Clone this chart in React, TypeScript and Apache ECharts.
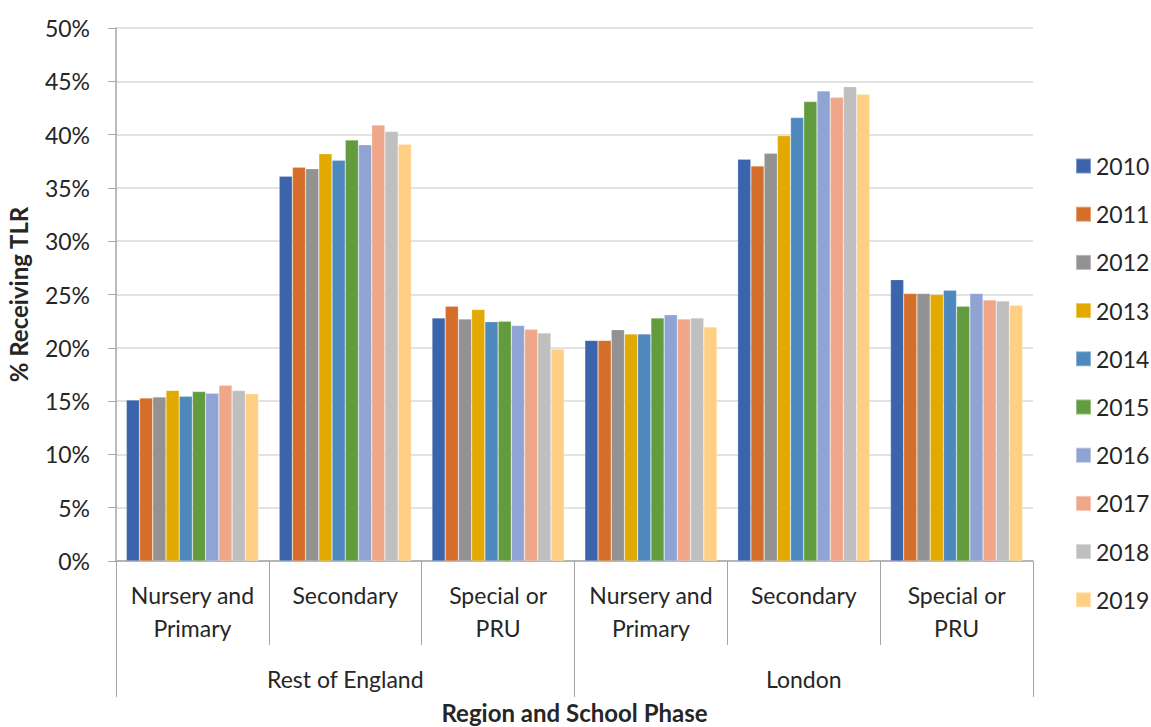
import React, { useEffect, useRef } from "react";
import * as echarts from "echarts";

const phases = [
  "Nursery and\nPrimary",
  "Secondary",
  "Special or\nPRU",
  "Nursery and\nPrimary",
  "Secondary",
  "Special or\nPRU",
];
const regions = ["Rest of England", "London"];
const years = ["2010", "2011", "2012", "2013", "2014", "2015", "2016", "2017", "2018", "2019"];

const v2010 = [15.1, 36.1, 22.8, 20.7, 37.7, 26.4];
const v2011 = [15.3, 36.95, 23.9, 20.7, 37.05, 25.1];
const v2012 = [15.4, 36.8, 22.7, 21.7, 38.25, 25.1];
const v2013 = [16.0, 38.2, 23.6, 21.3, 39.9, 25.0];
const v2014 = [15.45, 37.6, 22.45, 21.3, 41.6, 25.4];
const v2015 = [15.9, 39.5, 22.5, 22.8, 43.1, 23.9];
const v2016 = [15.75, 39.05, 22.1, 23.1, 44.1, 25.1];
const v2017 = [16.5, 40.9, 21.75, 22.7, 43.5, 24.5];
const v2018 = [16.0, 40.3, 21.4, 22.8, 44.5, 24.4];
const v2019 = [15.7, 39.1, 19.9, 21.95, 43.8, 24.0];

const values = [v2010, v2011, v2012, v2013, v2014, v2015, v2016, v2017, v2018, v2019];

const colors = [
  "#3b64ad",
  "#d46e2a",
  "#929292",
  "#e2aa00",
  "#4e89bd",
  "#639b3f",
  "#8fa3d4",
  "#f0a789",
  "#bfbfbf",
  "#ffcf84",
];

const yTicksMax = 50;
const yTickStep = 5;

const FONT = "Lato";
const TEXT = "#262626";
const AXIS = "#a6a6a6";

export default function App() {
  const ref = useRef<HTMLDivElement>(null);

  useEffect(() => {
    if (!ref.current) return;
    const chart = echarts.init(ref.current, undefined, { renderer: "svg" });
    chart.setOption({
      animation: false,
      color: colors,
      textStyle: { fontFamily: FONT },
      grid: {
        left: 116,
        right: 118,
        top: 28,
        bottom: 166,
        containLabel: false,
        outerBoundsMode: "none",
      },
      legend: {
        orient: "vertical",
        left: 1070,
        top: 149,
        itemWidth: 15,
        itemHeight: 15,
        itemGap: 24.2,
        icon: "rect",
        data: years,
        textStyle: { fontFamily: FONT, fontSize: 23, color: TEXT, lineHeight: 24 },
      },
      xAxis: [
        {
          type: "category",
          data: phases,
          position: "bottom",
          axisLine: { show: true, lineStyle: { color: AXIS, width: 1.5 } },
          axisTick: { show: true, length: 84, lineStyle: { color: AXIS, width: 1 } },
          axisLabel: {
            interval: 0,
            margin: 17,
            fontFamily: FONT,
            fontSize: 23,
            lineHeight: 33,
            color: TEXT,
          },
        },
        {
          type: "category",
          data: regions,
          position: "bottom",
          axisLine: { show: false },
          axisTick: { show: true, length: 136, lineStyle: { color: AXIS, width: 1 } },
          axisLabel: {
            interval: 0,
            margin: 106,
            fontFamily: FONT,
            fontSize: 23,
            lineHeight: 24,
            color: TEXT,
          },
          name: "Region and School Phase",
          nameLocation: "middle",
          nameGap: 139,
          nameTextStyle: { fontFamily: FONT, fontSize: 24, fontWeight: "bold", color: TEXT },
        },
      ],
      yAxis: {
        type: "value",
        min: 0,
        max: yTicksMax,
        interval: yTickStep,
        axisLine: { show: true, lineStyle: { color: AXIS, width: 1.5 } },
        axisTick: { show: true, length: 8, lineStyle: { color: AXIS } },
        splitLine: { show: true, lineStyle: { color: "#d9d9d9", width: 1.5 } },
        axisLabel: {
          formatter: "{value}%",
          margin: 26,
          fontFamily: FONT,
          fontSize: 23,
          color: TEXT,
        },
        name: "% Receiving TLR",
        nameLocation: "middle",
        nameGap: 86,
        nameTextStyle: { fontFamily: FONT, fontSize: 24, fontWeight: "bold", color: TEXT },
      },
      series: years.map((y, i) => ({
        name: y,
        type: "bar",
        xAxisIndex: 0,
        data: values[i],
        barGap: "0%",
        barCategoryGap: "13.5%",
        itemStyle: { color: colors[i], borderColor: "rgba(255,255,255,0.35)", borderWidth: 0.6 },
      })),
    });
    return () => chart.dispose();
  }, []);

  return <div ref={ref} style={{ width: 1151, height: 727, position: "absolute", left: 0, top: 0 }} />;
}
